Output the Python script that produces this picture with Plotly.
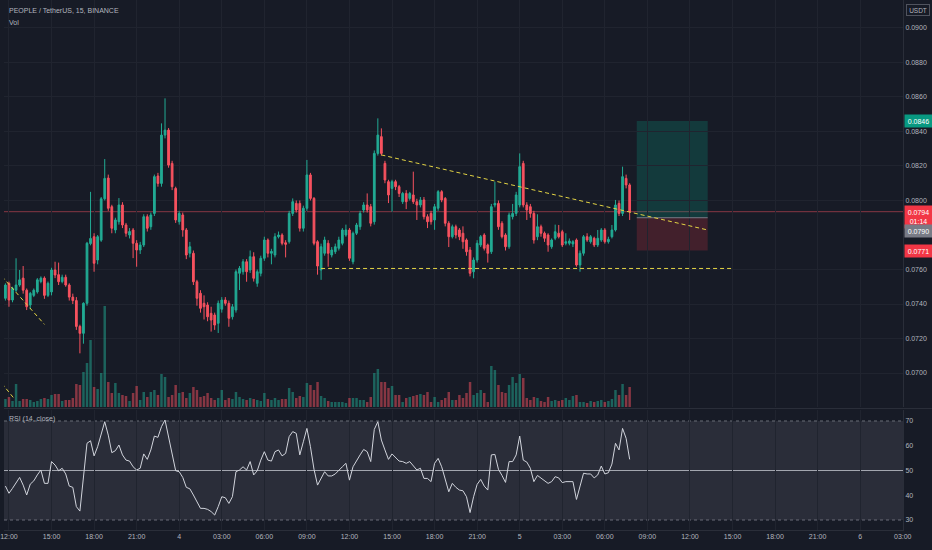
"""
PEOPLE / TetherUS, 15, BINANCE: свечи + объём + RSI(14), тёмная тема в духе TradingView.
Результат -> out.html.
"""
import pandas as pd
import plotly.graph_objects as go

# --- данные ---
START = "2022-01-03 11:45"  # первая свеча, шаг 15 минут

OPEN = [
    0.07433, 0.0752, 0.07423, 0.0748, 0.0751, 0.0755, 0.0748, 0.07394, 0.0745, 0.0747,
    0.0753, 0.0755, 0.0745, 0.0747, 0.07597, 0.0757, 0.0753, 0.07555, 0.0751, 0.0744,
    0.0742, 0.0727, 0.0723, 0.07404, 0.0775, 0.0779, 0.07655, 0.0777, 0.0801, 0.0813,
    0.07964, 0.07829, 0.07877, 0.07974, 0.07858, 0.0780, 0.07829, 0.07752, 0.07713, 0.07742,
    0.07906, 0.07848, 0.07925, 0.08142, 0.08099, 0.08379, 0.08408, 0.08215, 0.0807, 0.07877,
    0.07916, 0.07829, 0.07694, 0.07694, 0.07529, 0.07462, 0.07404, 0.07394, 0.07346, 0.07336,
    0.07288, 0.0737, 0.07423, 0.07404, 0.07326, 0.07365, 0.07578, 0.07587, 0.07645, 0.07597,
    0.07674, 0.0752, 0.07578, 0.07665, 0.07771, 0.07694, 0.07684, 0.0779, 0.0780, 0.07755,
    0.07761, 0.07925, 0.07983, 0.07983, 0.07839, 0.07955, 0.08148, 0.08012, 0.07761, 0.07597,
    0.07694, 0.07752, 0.07684, 0.07703, 0.07723, 0.07752, 0.0780, 0.07829, 0.07645, 0.0781,
    0.07848, 0.07945, 0.07974, 0.07964, 0.07877, 0.08273, 0.0837, 0.08215, 0.08109, 0.0807,
    0.08109, 0.0808, 0.07993, 0.08041, 0.08012, 0.08032, 0.07993, 0.07974, 0.08003, 0.07906,
    0.07925, 0.07887, 0.07955, 0.08051, 0.08012, 0.07868, 0.0779, 0.07848, 0.07829, 0.0781,
    0.07771, 0.07713, 0.07587, 0.07655, 0.07742, 0.0780, 0.07742, 0.07703, 0.07974, 0.07983,
    0.07868, 0.0780, 0.07732, 0.07906, 0.07925, 0.07974, 0.08215, 0.07974, 0.07964, 0.07925,
    0.0779, 0.07848, 0.0781, 0.0780, 0.07732, 0.07781, 0.0781, 0.07819, 0.07752, 0.07752,
    0.07748, 0.07771, 0.07626, 0.07694, 0.0779, 0.07761, 0.07781, 0.07742, 0.07771, 0.07829,
    0.07761, 0.0779, 0.07829, 0.07983, 0.07925, 0.08128, 0.0809,
]
HIGH = [
    0.0752, 0.0753, 0.0750, 0.07665, 0.07597, 0.0762, 0.0749, 0.0747, 0.0749, 0.0755,
    0.0756, 0.0756, 0.0753, 0.0761, 0.07645, 0.0764, 0.0757, 0.0757, 0.0752, 0.0746,
    0.0744, 0.0728, 0.0741, 0.0776, 0.0805, 0.0781, 0.0780, 0.0802, 0.0824, 0.0815,
    0.07975, 0.0790, 0.08014, 0.0799, 0.0787, 0.0784, 0.0784, 0.0777, 0.0776, 0.0792,
    0.0792, 0.0793, 0.0815, 0.0816, 0.08447, 0.08592, 0.0842, 0.0823, 0.0808, 0.0794,
    0.0793, 0.0784, 0.0776, 0.0771, 0.0754, 0.0748, 0.0745, 0.0741, 0.07384, 0.0735,
    0.0742, 0.0744, 0.0744, 0.0742, 0.0740, 0.0760, 0.0762, 0.0766, 0.0766, 0.0771,
    0.0770, 0.0760, 0.0768, 0.0779, 0.0778, 0.0772, 0.0781, 0.0782, 0.0781, 0.0777,
    0.0794, 0.08012, 0.0800, 0.0800, 0.0797, 0.08235, 0.0816, 0.0802, 0.0777, 0.0775,
    0.0779, 0.0777, 0.0773, 0.0775, 0.0779, 0.0784, 0.0786, 0.0784, 0.0782, 0.0787,
    0.0794, 0.0799, 0.08041, 0.0798, 0.0829, 0.08476, 0.08418, 0.0823, 0.0812, 0.0812,
    0.0812, 0.0809, 0.0805, 0.0806, 0.0805, 0.08167, 0.0801, 0.0802, 0.0802, 0.0792,
    0.0794, 0.0798, 0.0806, 0.0806, 0.0802, 0.0788, 0.0786, 0.0786, 0.0784, 0.0785,
    0.0778, 0.0773, 0.0767, 0.0777, 0.0780, 0.0781, 0.0775, 0.0798, 0.08109, 0.0800,
    0.0788, 0.0781, 0.0793, 0.0798, 0.0805, 0.08273, 0.0823, 0.0799, 0.0798, 0.0794,
    0.0792, 0.0786, 0.0782, 0.0781, 0.0778, 0.0786, 0.07858, 0.0783, 0.0781, 0.0778,
    0.0777, 0.0778, 0.0771, 0.0780, 0.0781, 0.0780, 0.0779, 0.07829, 0.0784, 0.0784,
    0.0779, 0.07858, 0.08003, 0.0800, 0.08196, 0.0815, 0.0810,
]
LOW = [
    0.0742, 0.07384, 0.0741, 0.0747, 0.0750, 0.0746, 0.07365, 0.0737, 0.0744, 0.0746,
    0.0752, 0.0743, 0.0744, 0.0745, 0.0755, 0.0751, 0.0752, 0.0750, 0.0742, 0.0740,
    0.0725, 0.07114, 0.0717, 0.0739, 0.0774, 0.07587, 0.0763, 0.0776, 0.0800, 0.0794,
    0.0781, 0.0781, 0.0786, 0.0784, 0.0779, 0.0778, 0.07666, 0.07616, 0.0769, 0.0773,
    0.0782, 0.0783, 0.0791, 0.0808, 0.0808, 0.0836, 0.0819, 0.0806, 0.0787, 0.0786,
    0.0779, 0.0766, 0.0767, 0.0751, 0.0739, 0.0735, 0.0731, 0.0730, 0.0724, 0.0725,
    0.07232, 0.0735, 0.0739, 0.07268, 0.0731, 0.0735, 0.07481, 0.0757, 0.07529, 0.0758,
    0.0753, 0.0750, 0.0756, 0.0765, 0.0767, 0.0763, 0.0767, 0.0778, 0.0774, 0.0767,
    0.0775, 0.0791, 0.0793, 0.0782, 0.0782, 0.0794, 0.0800, 0.0774, 0.0757, 0.0754,
    0.0768, 0.07616, 0.0767, 0.0769, 0.0771, 0.0774, 0.0779, 0.0765, 0.0763, 0.0780,
    0.0783, 0.0793, 0.0793, 0.0785, 0.0786, 0.0826, 0.0826, 0.0810, 0.07985, 0.07935,
    0.0806, 0.0802, 0.0798, 0.0795, 0.0800, 0.0798, 0.07887, 0.0796, 0.0789, 0.0784,
    0.0786, 0.0783, 0.0794, 0.0799, 0.0785, 0.0773, 0.0778, 0.0778, 0.0777, 0.0772,
    0.0768, 0.0756, 0.07549, 0.0764, 0.0773, 0.0771, 0.0764, 0.0769, 0.0796, 0.0783,
    0.0778, 0.0771, 0.0772, 0.0789, 0.0791, 0.0796, 0.0796, 0.07887, 0.0790, 0.0775,
    0.0777, 0.0779, 0.0776, 0.07703, 0.0772, 0.0777, 0.0778, 0.0773, 0.0774, 0.0774,
    0.0773, 0.07616, 0.07587, 0.0768, 0.0776, 0.0775, 0.0773, 0.0773, 0.0776, 0.0775,
    0.0775, 0.0778, 0.0782, 0.0791, 0.0791, 0.0807, 0.07887,
]
CLOSE = [
    0.0751, 0.07423, 0.07491, 0.0751, 0.0754, 0.0748, 0.07384, 0.07462, 0.0748, 0.0754,
    0.0755, 0.0745, 0.0752, 0.07597, 0.07568, 0.07529, 0.07555, 0.0751, 0.0744, 0.0742,
    0.0727, 0.0723, 0.07404, 0.07752, 0.0778, 0.07636, 0.0779, 0.0801, 0.08128, 0.07955,
    0.07839, 0.07887, 0.07974, 0.07858, 0.0781, 0.0782, 0.07752, 0.07713, 0.07742, 0.07906,
    0.07839, 0.07916, 0.08138, 0.08099, 0.08379, 0.08408, 0.08205, 0.0808, 0.07887, 0.07925,
    0.07829, 0.07684, 0.07732, 0.07529, 0.07433, 0.07375, 0.07384, 0.07326, 0.07307, 0.07278,
    0.07404, 0.07423, 0.07404, 0.07317, 0.07384, 0.07587, 0.07607, 0.07645, 0.07587, 0.07674,
    0.07549, 0.07587, 0.07665, 0.07771, 0.07694, 0.07705, 0.0779, 0.0780, 0.07752, 0.07746,
    0.07925, 0.07993, 0.07945, 0.07839, 0.07955, 0.08148, 0.08012, 0.07752, 0.0762, 0.07732,
    0.07771, 0.07694, 0.07713, 0.07732, 0.07771, 0.07829, 0.07829, 0.07665, 0.0781, 0.07858,
    0.07925, 0.07974, 0.07945, 0.07868, 0.08273, 0.08379, 0.08273, 0.08119, 0.08032, 0.08109,
    0.0808, 0.08041, 0.08041, 0.07993, 0.08041, 0.07993, 0.07974, 0.08003, 0.07906, 0.07877,
    0.07877, 0.07964, 0.08051, 0.08003, 0.07868, 0.0779, 0.07848, 0.0780, 0.0779, 0.07761,
    0.07703, 0.07578, 0.07655, 0.07752, 0.0779, 0.07723, 0.07694, 0.07964, 0.07983, 0.07848,
    0.0779, 0.07732, 0.07916, 0.07925, 0.08032, 0.08196, 0.07974, 0.07945, 0.07925, 0.07771,
    0.07848, 0.0781, 0.07781, 0.07742, 0.07771, 0.07819, 0.0779, 0.07742, 0.07761, 0.07765,
    0.07761, 0.07626, 0.07694, 0.0779, 0.07771, 0.0779, 0.07742, 0.07781, 0.07829, 0.07761,
    0.07775, 0.07829, 0.07974, 0.07925, 0.08138, 0.0809, 0.07935,
]
# объём, тыс. PEOPLE
VOLUME = [
    80, 100, 60, 230, 60, 80, 80, 70, 50, 60, 80, 90, 80, 120, 130, 130, 60, 70, 70, 90,
    230, 220, 350, 440, 670, 200, 180, 340, 1010, 250, 140,
    240, 140, 120, 110, 60, 140, 210, 70, 150, 100, 150, 170, 120, 330, 300, 100, 120, 220, 140,
    150, 90, 140, 200, 170, 100, 110, 140, 90, 70,
    90, 170, 70, 90, 80, 150, 100, 80, 70, 90, 80, 70, 60, 140, 80, 70, 90, 70, 80, 80,
    190, 150, 90, 110, 100, 240, 220, 170, 250, 110,
    90, 60, 50, 50, 50, 50, 40, 90, 90, 90, 70, 70, 50, 100, 340, 380, 250, 250, 190, 210,
    120, 120, 50, 90, 100, 110, 120, 130, 120,
    150, 50, 100, 50, 70, 90, 150, 70, 70, 120, 90, 140, 250, 120, 140, 170, 140, 50, 410, 370,
    220, 150, 140, 220, 300, 240, 330, 290,
    90, 70, 100, 90, 60, 50, 100, 60, 70, 60, 70, 90, 70, 110, 120, 50, 50, 40, 60, 50,
    60, 70, 50, 60, 80, 170, 120, 230, 120, 200,
]
RSI = [
    43.7, 40.8, 42.8, 45.1, 47.2, 44.1, 40.1, 44.5, 45.8, 48.2,
    50.2, 44.8, 44.8, 53.6, 52.2, 49.9, 50.9, 48.6, 43.7, 43.2,
    35.4, 33.6, 46.1, 61.0, 62.0, 55.9, 59.6, 65.0, 69.7, 64.3,
    57.2, 58.0, 60.3, 56.3, 54.2, 53.8, 51.5, 50.2, 50.9, 56.7,
    54.5, 58.3, 63.9, 63.4, 67.7, 70.4, 63.7, 55.6, 49.9, 49.5,
    47.2, 43.2, 42.6, 40.1, 37.4, 34.7, 34.7, 34.3, 33.4, 32.0,
    35.4, 39.4, 39.0, 36.7, 39.4, 49.5, 50.2, 51.5, 50.2, 53.6,
    48.2, 49.9, 54.2, 57.6, 54.2, 53.8, 57.6, 58.3, 55.9, 56.9,
    63.7, 65.7, 65.0, 56.3, 61.6, 67.0, 59.6, 50.5, 44.1, 46.8,
    49.5, 47.8, 47.8, 48.6, 50.2, 51.5, 52.9, 46.1, 51.5, 54.2,
    56.3, 58.5, 57.6, 53.6, 66.6, 69.7, 62.3, 58.3, 54.5, 56.7,
    55.3, 53.8, 53.6, 52.9, 53.6, 51.8, 50.2, 50.9, 46.8, 46.8,
    45.5, 52.9, 54.9, 51.5, 46.4, 41.4, 44.8, 43.2, 42.1, 41.8,
    39.4, 33.0, 39.4, 44.4, 46.4, 43.7, 42.1, 56.3, 56.5, 50.5,
    48.0, 45.2, 53.6, 53.6, 56.3, 63.9, 54.2, 53.4, 50.9, 45.5,
    48.0, 47.0, 46.1, 44.8, 45.5, 47.5, 47.0, 45.1, 45.5, 45.5,
    45.5, 38.3, 43.2, 48.9, 48.6, 48.6, 47.0, 48.2, 51.8, 48.6,
    49.1, 52.6, 61.0, 58.3, 67.0, 63.0, 54.5,
]

TIME_TICKS = [
    "2022-01-03 12:00", "2022-01-03 15:00", "2022-01-03 18:00", "2022-01-03 21:00",
    "2022-01-04 00:00", "2022-01-04 03:00", "2022-01-04 06:00", "2022-01-04 09:00",
    "2022-01-04 12:00", "2022-01-04 15:00", "2022-01-04 18:00", "2022-01-04 21:00",
    "2022-01-05 00:00", "2022-01-05 03:00", "2022-01-05 06:00", "2022-01-05 09:00",
    "2022-01-05 12:00", "2022-01-05 15:00", "2022-01-05 18:00", "2022-01-05 21:00",
    "2022-01-06 00:00", "2022-01-06 03:00",
]
TIME_LABELS = [
    "12:00", "15:00", "18:00", "21:00", "4", "03:00", "06:00", "09:00",
    "12:00", "15:00", "18:00", "21:00", "5", "03:00", "06:00", "09:00",
    "12:00", "15:00", "18:00", "21:00", "6", "03:00",
]
PRICE_TICKS = [0.0700, 0.0720, 0.0740, 0.0760, 0.0800, 0.0820, 0.0840, 0.0860, 0.0880, 0.0900]
RSI_TICKS = [30, 40, 50, 60, 70]

# рисунки автора: трендовые линии и long-позиция
TREND_LINES = [
    (("2022-01-04 14:15", 0.08264), ("2022-01-05 13:15", 0.07829)),
    (("2022-01-04 10:00", 0.07606), ("2022-01-05 15:00", 0.07606)),
    (("2022-01-03 11:30", 0.07560), ("2022-01-03 14:30", 0.07282)),
    (("2022-01-03 11:30", 0.06940), ("2022-01-03 12:20", 0.06855)),
]
POS_START, POS_END = "2022-01-05 08:15", "2022-01-05 13:15"
ENTRY, TARGET, STOP = 0.0790, 0.0846, 0.0771
COUNTDOWN = "01:14"

X_RANGE = ["2022-01-03 11:39", "2022-01-06 03:01"]
PRICE_RANGE = [0.06803, 0.09162]
RSI_RANGE = [25.96, 74.44]

# --- оформление ---
BG = "#171b26"
GRID = "#20242f"
SEP = "#2a2e39"
TXT = "#b2b5be"
UP, DOWN = "#22ab94", "#f7525f"
UP_VOL, DOWN_VOL = "rgba(34,171,148,0.5)", "rgba(247,82,95,0.5)"
YELLOW = "#e3d444"
FONT = "Liberation Sans, Arial, sans-serif"
FS = 7

MAIN_BOTTOM = 123 / 530   # низ основной панели (доля области графика)
RSI_TOP = 120 / 530


def price_label(y, text, color, shift=0, height=10):
    return dict(xref="paper", x=1, xanchor="left", xshift=1, yref="y3", y=y,
                yanchor="middle", yshift=shift, text=text, showarrow=False,
                bgcolor=color, font=dict(color="#ffffff", size=FS, family=FONT),
                width=25, height=height, borderpad=1, align="center")


def main() -> None:
    times = pd.date_range(START, periods=len(CLOSE), freq="15min")
    vol_colors = [UP_VOL if c >= o else DOWN_VOL for o, c in zip(OPEN, CLOSE)]

    fig = go.Figure()
    # объём снизу основной панели (базовая ось y, скрытая)
    fig.add_trace(go.Bar(x=times, y=VOLUME, marker_color=vol_colors, marker_line_width=0,
                         width=15 * 60 * 1000 * 0.7, xaxis="x", yaxis="y"))
    fig.add_trace(go.Candlestick(
        x=times, open=OPEN, high=HIGH, low=LOW, close=CLOSE, xaxis="x", yaxis="y3",
        increasing=dict(line=dict(color=UP, width=1), fillcolor=UP),
        decreasing=dict(line=dict(color=DOWN, width=1), fillcolor=DOWN),
        whiskerwidth=0,
    ))
    fig.add_trace(go.Scatter(x=times, y=RSI, mode="lines", line=dict(color="#d1d4dc", width=1),
                             xaxis="x2", yaxis="y2"))

    shapes = []
    # позиция: профит / стоп
    shapes.append(dict(type="rect", xref="x", yref="y3", x0=POS_START, x1=POS_END, y0=ENTRY, y1=TARGET,
                       fillcolor="rgba(8,153,129,0.25)", line=dict(width=0), layer="below"))
    shapes.append(dict(type="rect", xref="x", yref="y3", x0=POS_START, x1=POS_END, y0=STOP, y1=ENTRY,
                       fillcolor="rgba(242,54,69,0.2)", line=dict(width=0), layer="below"))
    shapes.append(dict(type="line", xref="x", yref="y3", x0=POS_START, x1=POS_END, y0=ENTRY, y1=ENTRY,
                       line=dict(color="#787b86", width=1)))
    # линия текущей цены
    shapes.append(dict(type="line", xref="x domain", yref="y3", x0=0, x1=1, y0=CLOSE[-1], y1=CLOSE[-1],
                       line=dict(color="rgba(247,82,95,0.5)", width=1), layer="below"))
    for (t0, p0), (t1, p1) in TREND_LINES:
        shapes.append(dict(type="line", xref="x", yref="y3", x0=t0, x1=t1, y0=p0, y1=p1,
                           line=dict(color=YELLOW, width=1, dash="4px,3px")))
    # RSI: полоса 30–70 и уровни
    shapes.append(dict(type="rect", xref="x2 domain", yref="y2", x0=0, x1=1, y0=30, y1=70,
                       fillcolor="#2a2d39", line=dict(width=0), layer="below"))
    for lvl, dash, col in [(70, "3px,3px", "#6a6d78"), (30, "3px,3px", "#6a6d78"), (50, "solid", "#a3a6af")]:
        shapes.append(dict(type="line", xref="x2 domain", yref="y2", x0=0, x1=1, y0=lvl, y1=lvl,
                           line=dict(color=col, width=1, dash=dash), layer="below"))
    # разделитель панелей
    shapes.append(dict(type="line", xref="paper", yref="paper", x0=0, x1=932 / 903,
                       y0=(MAIN_BOTTOM + RSI_TOP) / 2, y1=(MAIN_BOTTOM + RSI_TOP) / 2,
                       line=dict(color=SEP, width=1)))

    txt = dict(color=TXT, size=FS, family=FONT)
    annotations = [
        dict(xref="paper", yref="paper", x=0, y=1, xanchor="left", yanchor="top", xshift=3, yshift=-5,
             text="PEOPLE / TetherUS, 15, BINANCE", showarrow=False, font=txt),
        dict(xref="paper", yref="paper", x=0, y=1, xanchor="left", yanchor="top", xshift=3, yshift=-17,
             text="Vol", showarrow=False, font=txt),
        dict(xref="paper", yref="y2 domain", x=0, y=1, xanchor="left", yanchor="top", xshift=3, yshift=-3,
             text="RSI (14, close)", showarrow=False, font=txt),
        dict(xref="paper", yref="paper", x=1, y=1, xanchor="left", yanchor="top", xshift=3, yshift=-4,
             text="USDT", showarrow=False, font=dict(color=TXT, size=6.5, family=FONT),
             bordercolor="#50535e", borderwidth=1, borderpad=1, width=20, height=8),
        price_label(TARGET, f"{TARGET:.4f}", "#089981"),
        price_label(CLOSE[-1], f"{CLOSE[-1]:.4f}<br>{COUNTDOWN}", "#f23645", shift=-5, height=20),
        price_label(ENTRY, f"{ENTRY:.4f}", "#787b86", shift=-13),
        price_label(STOP, f"{STOP:.4f}", "#f23645"),
    ]

    fig.update_layout(
        width=932, height=550,
        margin=dict(l=0, r=29, t=0, b=20),
        paper_bgcolor=BG, plot_bgcolor=BG,
        font=dict(family=FONT, size=FS, color=TXT),
        showlegend=False, hovermode=False,
        xaxis=dict(domain=[0, 1], anchor="y", range=X_RANGE, tickvals=TIME_TICKS, showticklabels=False,
                   showgrid=True, gridcolor=GRID, zeroline=False, rangeslider=dict(visible=False)),
        yaxis=dict(domain=[MAIN_BOTTOM, 1], range=[0, max(VOLUME) * 4.03], visible=False),
        yaxis3=dict(overlaying="y", anchor="x", side="right", range=PRICE_RANGE,
                    tickvals=PRICE_TICKS, ticktext=[f"{v:.4f}" for v in PRICE_TICKS],
                    showgrid=True, gridcolor=GRID, zeroline=False, ticks="",
                    showline=True, linecolor=SEP, tickfont=txt),
        xaxis2=dict(domain=[0, 1], anchor="y2", range=X_RANGE, tickvals=TIME_TICKS, ticktext=TIME_LABELS,
                    showgrid=True, gridcolor=GRID, zeroline=False, ticks="", tickangle=0,
                    ticklabeloverflow="allow", showline=True, linecolor=SEP, tickfont=txt),
        yaxis2=dict(domain=[0, RSI_TOP], anchor="x2", side="right", range=RSI_RANGE, tickvals=RSI_TICKS,
                    showgrid=False, zeroline=False, ticks="", showline=True, linecolor=SEP, tickfont=txt),
        shapes=shapes,
        annotations=annotations,
    )
    # у body по умолчанию отступ 8px — убираем, чтобы график лёг ровно в окно
    fig.write_html("out.html", config={"displayModeBar": False},
                   post_script="document.body.style.margin = '0';")


if __name__ == "__main__":
    main()
